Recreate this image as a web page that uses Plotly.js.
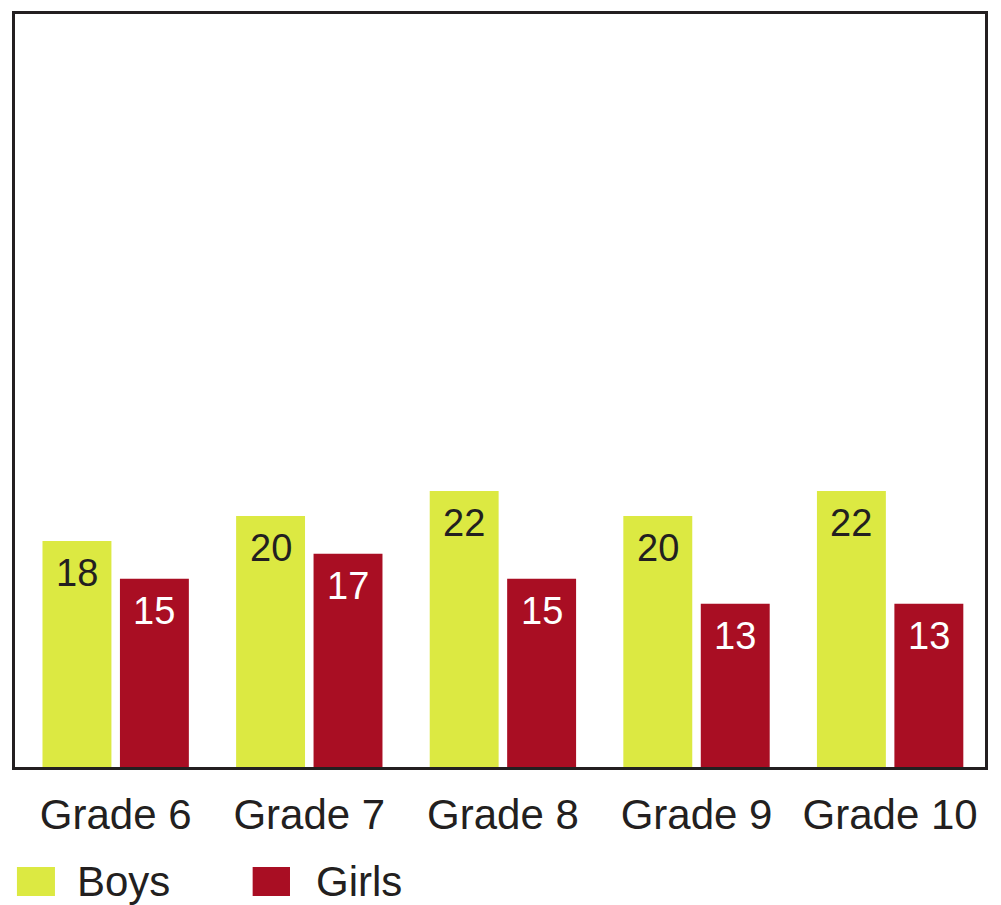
<!DOCTYPE html>
<html>
<head>
<meta charset="utf-8">
<script src="https://cdn.plot.ly/plotly-3.0.1.min.js"></script>
<style>html,body{margin:0;padding:0;background:#fff;}#chart{width:1001px;height:905px;}</style>
</head>
<body>
<div id="chart"></div>
<script>
const categories = ["Grade 6", "Grade 7", "Grade 8", "Grade 9", "Grade 10"];
const seriesNames = ["Boys", "Girls"];
const boys = [18, 20, 22, 20, 22];
const girls = [15, 17, 15, 13, 13];

const colors = ["#dce942", "#a90e23"];
const textColors = ["#231f20", "#ffffff"];
const FONT = "Liberation Sans, Arial, Helvetica, sans-serif";
const BARGAP = 0.2;
const series = [boys, girls];

const traces = series.map((vals, i) => ({
  type: "bar",
  name: seriesNames[i],
  x: categories,
  y: vals,
  marker: {color: colors[i], line: {width: 0}},
  hoverinfo: "skip",
  showlegend: false
}));

// value labels inside top of each bar, placed via the axis scales
const slot = (1 - BARGAP) / series.length;
const labelAnnotations = [];
series.forEach((vals, s) => {
  vals.forEach((v, c) => {
    labelAnnotations.push({
      xref: "x", yref: "y",
      x: c - (1 - BARGAP) / 2 + slot * (s + 0.5),
      y: v, yanchor: "top", xanchor: "center", yshift: -9,
      showarrow: false, text: String(v),
      font: {family: FONT, size: 38, color: textColors[s]}
    });
  });
});

const legendSquares = [
  {x0: 0.002, x1: 0.0412},
  {x0: 0.245, x1: 0.2835}
];
const legendTextX = [0.0619, 0.3082];

const shapes = legendSquares.map((s, i) => ({
  type: "rect", xref: "paper", yref: "paper",
  x0: s.x0, x1: s.x1, y0: -0.1328, y1: -0.1713,
  fillcolor: colors[i], line: {width: 0}
}));
const legendAnnotations = seriesNames.map((n, i) => ({
  xref: "paper", yref: "paper", x: legendTextX[i], y: -0.152,
  xanchor: "left", yanchor: "middle", showarrow: false,
  text: n, font: {family: FONT, size: 42, color: "#231f20"}
}));

const layout = {
  width: 1001, height: 905,
  margin: {l: 15, r: 16, t: 14, b: 138, pad: 0},
  paper_bgcolor: "#ffffff", plot_bgcolor: "#ffffff",
  barmode: "group", bargap: BARGAP, bargroupgap: 0.11,
  showlegend: false,
  xaxis: {
    type: "category", range: [-0.52, 4.49],
    showline: true, mirror: true, linewidth: 3, linecolor: "#231f20",
    ticks: "", showgrid: false, zeroline: false,
    tickfont: {family: FONT, size: 42, color: "#231f20"},
    ticklabelstandoff: 9, fixedrange: true
  },
  yaxis: {
    range: [0, 60],
    showline: true, mirror: true, linewidth: 3, linecolor: "#231f20",
    showticklabels: false, ticks: "", showgrid: false, zeroline: false,
    fixedrange: true
  },
  shapes: shapes,
  annotations: labelAnnotations.concat(legendAnnotations)
};

Plotly.newPlot("chart", traces, layout, {displayModeBar: false, staticPlot: true});
</script>
</body>
</html>
